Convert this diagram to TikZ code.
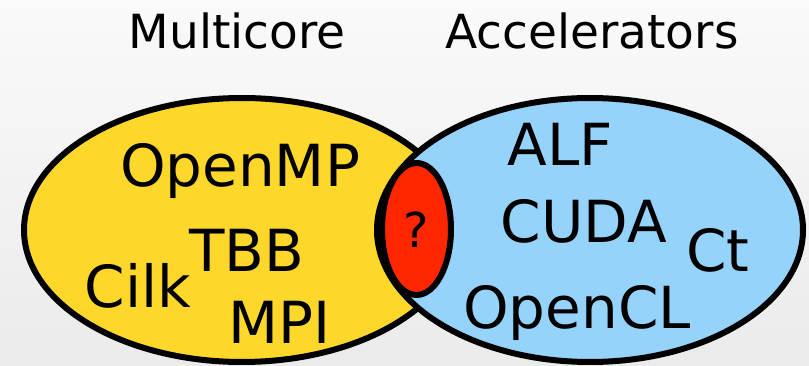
\documentclass[tikz,border=0pt]{standalone}
\usepackage{fontspec}
\setmainfont{DejaVu Sans}
\usepackage{xcolor}
\usetikzlibrary{shapes.geometric}
\definecolor{multiyellow}{RGB}{253,215,42}
\definecolor{accelblue}{RGB}{150,211,251}
\definecolor{mixred}{RGB}{255,38,0}

\begin{document}
\begin{tikzpicture}[x=1pt, y=-1pt,
  setshape/.style={draw=black, ellipse, line width=6pt, inner sep=0pt},
  title/.style={anchor=base, inner sep=0pt, font=\fontsize{47}{56}\selectfont},
  item/.style={anchor=base, inner sep=0pt, font=\fontsize{58}{70}\selectfont}
]
\useasboundingbox (0,0) rectangle (809,366);
\shade[top color=black!2, bottom color=black!8] (0,0) rectangle (809,366);
% the two sets and their overlap
\node[setshape, fill=multiyellow, minimum width=436pt, minimum height=264pt] (multicore) at (242,230) {};
\node[setshape, fill=accelblue, minimum width=426pt, minimum height=264pt] (accel) at (590,230) {};
\node[setshape, fill=mixred, minimum width=69pt, minimum height=132pt] (overlap) at (416.5,229) {};
\node[anchor=base, inner sep=0pt, font=\fontsize{48}{56}\selectfont] (qmark) at (416,248) {?};
% headings
\node[title] (tmulti) at (237,49) {Multicore};
\node[title] (taccel) at (592,49) {Accelerators};
% multicore models
\node[item] (openmp) at (240,187) {OpenMP};
\node[item] (tbb) at (247,272) {TBB};
\node[item] (cilk) at (138,307) {Cilk};
\node[item] (mpi) at (280,343) {MPI};
% accelerator models
\node[item] (alf) at (560,166) {ALF};
\node[item] (cuda) at (584,243) {CUDA};
\node[item] (ct) at (718,272) {Ct};
\node[item] (opencl) at (577,328) {OpenCL};
\end{tikzpicture}
\end{document}
